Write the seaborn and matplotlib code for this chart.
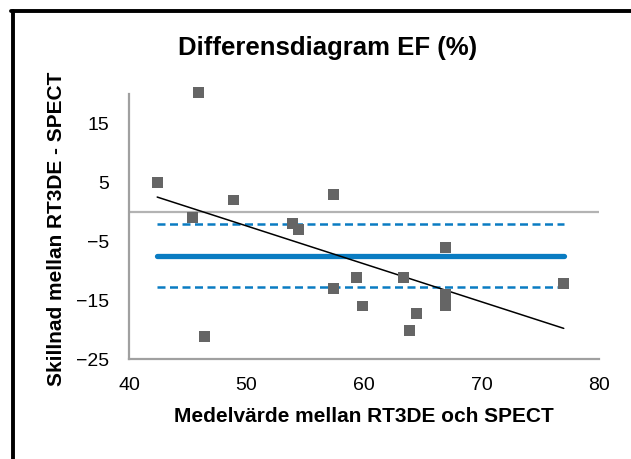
import matplotlib
matplotlib.use("Agg")
import matplotlib.pyplot as plt
import seaborn as sns
import pandas as pd
from matplotlib.lines import Line2D

# ---- data ----
mean_values = [42.4, 45.9, 45.4, 46.4, 48.9, 53.9, 54.4, 57.4, 57.4,
               59.4, 59.9, 63.4, 64.5, 63.9, 66.9, 66.9, 66.9, 77.0]
diff_values = [5.0, 20.2, -1.0, -21.1, 2.0, -2.0, -3.0, 3.0, -13.1,
               -11.1, -16.0, -11.1, -17.2, -20.1, -6.0, -14.1, -15.9, -12.1]
line_x = [42.4, 77.0]            # extent of mean / limit lines
mean_diff = -7.45
upper_limit = -2.15
lower_limit = -12.8
trend_x = [42.4, 77.0]
trend_y = [2.5, -19.8]
zero_x = [40, 80]
zero_y = [0, 0]
x_ticks = [40, 50, 60, 70, 80]
y_ticks = [-25, -15, -5, 5, 15]

title = "Differensdiagram EF (%)"
xlabel = "Medelvärde mellan RT3DE och SPECT"
ylabel = "Skillnad mellan RT3DE - SPECT"

sns.set_theme(style="white")
plt.rcParams["font.family"] = ["Liberation Sans", "DejaVu Sans"]

W, H = 631, 459
fig = plt.figure(figsize=(W / 100, H / 100), dpi=100)
fig.patch.set_facecolor("white")
ax = fig.add_axes([129 / W, 1 - 359 / H, 470 / W, 265 / H])
ax.set_facecolor("white")

blue = "#0a7cc2"

# zero reference line
sns.lineplot(x=zero_x, y=zero_y, ax=ax, color="#b3b3b3", linewidth=1.6,
             zorder=1)
# mean difference and limits
sns.lineplot(x=line_x, y=[mean_diff] * 2, ax=ax, color=blue, linewidth=3.8,
             solid_capstyle="round", zorder=2)
for lim in (upper_limit, lower_limit):
    sns.lineplot(x=line_x, y=[lim] * 2, ax=ax, color=blue, linewidth=1.8,
                 dashes=False, zorder=2).lines[-1].set_dashes([3.2, 1.8])
# trend line
sns.lineplot(x=trend_x, y=trend_y, ax=ax, color="black", linewidth=1.1,
             zorder=3)
# points
df = pd.DataFrame({"mean": mean_values, "diff": diff_values})
sns.scatterplot(data=df, x="mean", y="diff", ax=ax, marker="s", s=62,
                color="#656565", edgecolor="none", linewidth=0, zorder=4,
                clip_on=False)

ax.set_xlim(40, 80)
ax.set_ylim(-25, 20)
ax.set_xticks(x_ticks)
ax.set_yticks(y_ticks)
ax.tick_params(axis="both", length=0, labelsize=14, colors="black")
ax.tick_params(axis="y", pad=14)
ax.tick_params(axis="x", pad=13)

for side in ("top", "right"):
    ax.spines[side].set_visible(False)
for side in ("left", "bottom"):
    ax.spines[side].set_color("#a0a0a0")
    ax.spines[side].set_linewidth(1.6)
ax.grid(False)

ax.set_xlabel(xlabel, fontsize=15, fontweight="bold", color="black")
ax.xaxis.set_label_coords(0.5, -(417 - 359) / 265)
ax.xaxis.label.set_va("center")
ax.set_ylabel(ylabel, fontsize=15, fontweight="bold", color="black")
ax.yaxis.set_label_coords((57 - 129) / 470, 0.49)
ax.yaxis.label.set_va("center")

fig.text(328 / W, 1 - 48 / H, title, fontsize=18.5, fontweight="bold",
         ha="center", va="center", color="black")

# outer chart border (only left and top edges visible in the crop)
fig.add_artist(Line2D([13 / W, 13 / W], [1 - 10.5 / H, -0.1],
                      transform=fig.transFigure, color="black", linewidth=2.8))
fig.add_artist(Line2D([11 / W, 1.1], [1 - 10.5 / H, 1 - 10.5 / H],
                      transform=fig.transFigure, color="black", linewidth=2.8))

fig.savefig("out.png", dpi=100)
